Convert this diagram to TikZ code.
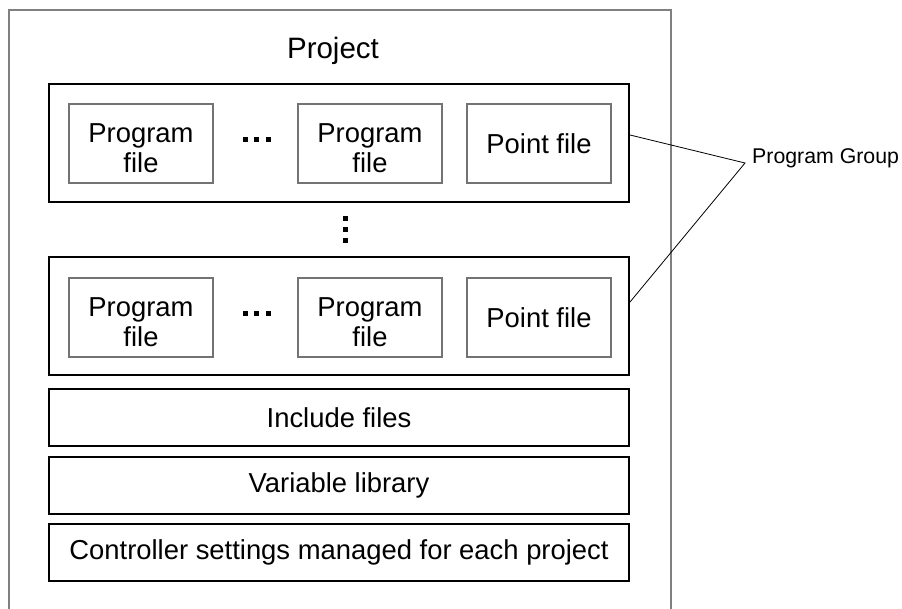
\documentclass[tikz,border=0pt]{standalone}
\usepackage{fontspec}
\setmainfont{Liberation Sans}
\begin{document}
\begin{tikzpicture}[x=1pt,y=-1pt,
  outerline/.style={draw=black!50,line width=1.2pt},
  group/.style={draw=black,line width=2pt,minimum width=580pt,minimum height=118pt,inner sep=0pt},
  filebox/.style={draw=black!55,line width=1.5pt,minimum width=144pt,minimum height=79pt,inner sep=0pt,align=center,font=\fontsize{27.4}{30}\selectfont},
  ftext/.style={inner sep=0pt,align=center,font=\fontsize{27.4}{30}\selectfont},
  barbox/.style={draw=black,line width=1.5pt,minimum width=580pt,minimum height=57pt,inner sep=0pt,font=\fontsize{27.4}{30}\selectfont},
  dotsq/.style={fill=black,minimum size=5pt,inner sep=0pt},
  leader/.style={draw=black,line width=0.8pt}]
\useasboundingbox (0,0) rectangle (902,609);
% outer project frame (open at bottom)
\draw[outerline] (9,609) -- (9,10) -- (671,10) -- (671,609);
\node[font=\fontsize{29.5}{32}\selectfont] (proj) at (333,51) {Project};
% group 1
\node[group] (g1) at (339,143.5) {};
\node[filebox] (p11) at (141,143.5) {};
\node[ftext] (t11) at ([yshift=-4.5pt]p11.center) {Program\\file};
\node[filebox] (p12) at (370,143.5) {};
\node[ftext] (t12) at ([yshift=-4.5pt]p12.center) {Program\\file};
\node[filebox] (pt1) at (539,143.5) {Point file};
\node[dotsq] (d11) at (245.5,140) {};
\node[dotsq] (d12) at (256.7,140) {};
\node[dotsq] (d13) at (268,140) {};
% vertical dots
\node[dotsq] (v1) at (345.5,218.3) {};
\node[dotsq] (v2) at (345.5,229.6) {};
\node[dotsq] (v3) at (345.5,241) {};
% group 2
\node[group] (g2) at (339,316.5) {};
\node[filebox] (p21) at (141,317.5) {};
\node[ftext] (t21) at ([yshift=-4.5pt]p21.center) {Program\\file};
\node[filebox] (p22) at (370,317.5) {};
\node[ftext] (t22) at ([yshift=-4.5pt]p22.center) {Program\\file};
\node[filebox] (pt2) at (539,317.5) {Point file};
\node[dotsq] (d21) at (245.5,314) {};
\node[dotsq] (d22) at (256.7,314) {};
\node[dotsq] (d23) at (268,314) {};
% bars
\node[barbox] (inc) at (339,417.5) {Include files};
\node[barbox] (var) at (339,485.5) {Variable library};
\node[barbox] (ctl) at (339,552.5) {Controller settings managed for each project};
% label
\node[anchor=west,inner sep=0pt,font=\fontsize{21.3}{24}\selectfont] (pg) at (752,158) {Program Group};
\coordinate (tip) at (745,163);
\draw[leader] ([yshift=8.5pt]g1.east) -- (tip) -- ([yshift=14.5pt]g2.east);
\end{tikzpicture}
\end{document}
